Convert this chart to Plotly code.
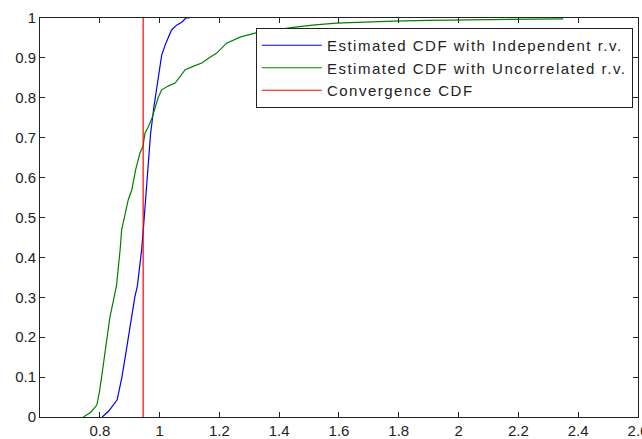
import plotly.graph_objects as go

# Estimated CDF with independent r.v. (blue)
indep_x = [0.808, 0.830, 0.858, 0.866, 0.874, 0.885, 0.895, 0.906, 0.917, 0.926, 0.933,
           0.940, 0.946, 0.953, 0.961, 0.970, 0.981, 0.990, 1.001, 1.007, 1.021, 1.040,
           1.057, 1.075, 1.088, 1.10]
indep_y = [0.0, 0.015, 0.043, 0.07, 0.10, 0.15, 0.20, 0.25, 0.30, 0.33, 0.37,
           0.419, 0.474, 0.544, 0.627, 0.711, 0.777, 0.82, 0.877, 0.907, 0.937, 0.97,
           0.982, 0.99, 1.0, 1.0]

# Estimated CDF with uncorrelated r.v. (green)
uncorr_x = [0.745, 0.770, 0.790, 0.798, 0.806, 0.815, 0.823, 0.834, 0.845, 0.856, 0.868,
            0.873, 0.885, 0.895, 0.907, 0.920, 0.934, 0.945, 0.951, 0.962, 0.975, 0.985,
            0.995, 1.007, 1.030, 1.052, 1.085, 1.110, 1.141, 1.165, 1.191, 1.224, 1.269,
            1.319, 1.380, 1.453, 1.520, 1.592, 1.680, 1.780, 1.900, 2.070, 2.200, 2.350]
uncorr_y = [0.0, 0.012, 0.03, 0.06, 0.10, 0.15, 0.20, 0.251, 0.29, 0.33, 0.419,
            0.469, 0.51, 0.544, 0.569, 0.62, 0.661, 0.68, 0.711, 0.727, 0.75, 0.777,
            0.80, 0.82, 0.83, 0.837, 0.870, 0.878, 0.887, 0.90, 0.912, 0.937, 0.952,
            0.962, 0.970, 0.977, 0.983, 0.987, 0.990, 0.992, 0.994, 0.996, 0.997, 0.998]

# Convergence CDF (red vertical line)
conv_x = [0.945, 0.945]
conv_y = [0.0, 1.0]

series_names = ["Estimated CDF with Independent r.v.",
                "Estimated CDF with Uncorrelated r.v.",
                "Convergence CDF"]

x_ticks = [0.8, 1.0, 1.2, 1.4, 1.6, 1.8, 2.0, 2.2, 2.4, 2.6]
x_labels = ["0.8", "1", "1.2", "1.4", "1.6", "1.8", "2", "2.2", "2.4", "2.6"]
y_ticks = [0, 0.1, 0.2, 0.3, 0.4, 0.5, 0.6, 0.7, 0.8, 0.9, 1.0]
y_labels = ["0", "0.1", "0.2", "0.3", "0.4", "0.5", "0.6", "0.7", "0.8", "0.9", "1"]

FONT = "Liberation Sans, Arial, sans-serif"


def spaced(t):
    return '<span style="letter-spacing:1.5px">' + t + '</span>'


fig = go.Figure()
fig.add_trace(go.Scatter(x=indep_x, y=indep_y, mode="lines",
                         line=dict(color="#0000FF", width=1.2),
                         name=spaced(series_names[0])))
fig.add_trace(go.Scatter(x=uncorr_x, y=uncorr_y, mode="lines",
                         line=dict(color="#008000", width=1.2),
                         name=spaced(series_names[1])))
fig.add_trace(go.Scatter(x=conv_x, y=conv_y, mode="lines",
                         line=dict(color="#FF0000", width=1.2),
                         name=spaced(series_names[2])))

axis_common = dict(showline=True, linecolor="#222222", linewidth=1, mirror="ticks",
                   ticks="inside", ticklen=5, tickcolor="#222222", showgrid=False,
                   zeroline=False, automargin=False, ticklabeloverflow="allow",
                   tickfont=dict(family=FONT, size=15, color="#222222"))

fig.update_layout(
    width=642, height=439,
    margin=dict(l=40, r=4, t=18, b=22),
    paper_bgcolor="white", plot_bgcolor="white",
    xaxis=dict(range=[0.6, 2.6001], tickvals=x_ticks, ticktext=x_labels, **axis_common),
    yaxis=dict(range=[0, 1], tickvals=y_ticks, ticktext=y_labels, **axis_common),
    legend=dict(x=0.361, y=0.975, xanchor="left", yanchor="top",
                bgcolor="white", bordercolor="#222222", borderwidth=1,
                font=dict(family=FONT, size=15, color="#222222"),
                itemwidth=60, tracegroupgap=0),
    showlegend=True,
)

fig.write_html("out.html", config={"displayModeBar": False},
               post_script="document.body.style.margin='0';document.body.style.overflow='hidden';")
